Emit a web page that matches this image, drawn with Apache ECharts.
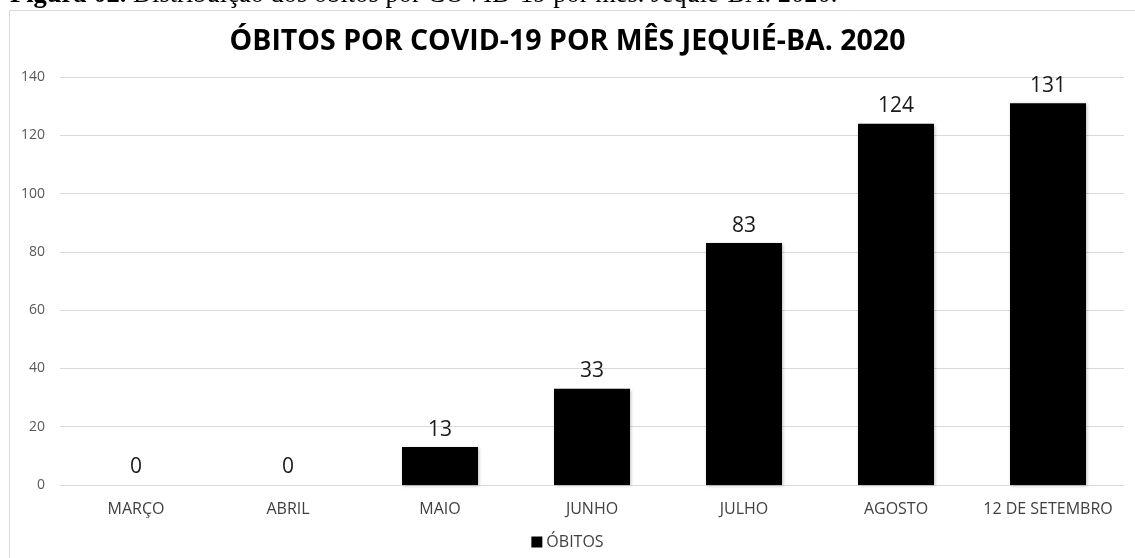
<!DOCTYPE html>
<html>
<head>
<meta charset="utf-8">
<script src="https://cdn.jsdelivr.net/npm/echarts@6/dist/echarts.min.js"></script>
<style>
html,body{margin:0;padding:0;background:#fff;}
#chart{width:1135px;height:558px;}
</style>
</head>
<body>
<div id="chart"></div>
<script>
const categories = ['MARÇO', 'ABRIL', 'MAIO', 'JUNHO', 'JULHO', 'AGOSTO', '12 DE SETEMBRO'];
const obitos = [0, 0, 13, 33, 83, 124, 131];
const seriesName = 'ÓBITOS';
const chartTitle = 'ÓBITOS POR COVID-19 POR MÊS JEQUIÉ-BA. 2020';
const captionBold = 'Figura 02.';
const captionText = ' Distribuição dos óbitos por COVID-19 por mês. Jequié-BA. 2020.';
const yTicks = { min: 0, max: 140, interval: 20 };

const chart = echarts.init(document.getElementById('chart'), null, { renderer: 'canvas' });
const sans = '"Open Sans", "Noto Sans", sans-serif';
const serif = '"Liberation Serif", "Times New Roman", serif';
chart.setOption({
  animation: false,
  backgroundColor: '#ffffff',
  title: {
    text: chartTitle,
    left: 'center',
    top: 22,
    textStyle: { fontFamily: sans, fontWeight: 'bold', fontSize: 28.5, color: '#000000' }
  },
  graphic: [
    {
      type: 'rect',
      shape: { x: 9.5, y: 10.5, width: 1300, height: 700 },
      style: { fill: 'none', stroke: '#d9d9d9', lineWidth: 1 },
      silent: true, z: -1
    },
    {
      type: 'text',
      left: 10,
      top: -18,
      style: {
        text: '{b|' + captionBold + '}{r|' + captionText + '}',
        rich: {
          b: { fontFamily: serif, fontWeight: 'bold', fontSize: 26.5, fill: '#000' },
          r: { fontFamily: serif, fontSize: 26.5, fill: '#000' }
        }
      }
    }
  ],
  legend: {
    data: [seriesName],
    bottom: 3,
    left: 'center',
    icon: 'rect',
    itemWidth: 11,
    itemHeight: 11,
    itemGap: 5,
    textStyle: { fontFamily: sans, fontSize: 16, color: '#404040', padding: [0, 0, 0, -1] }
  },
  grid: { left: 60, right: 11, top: 77, bottom: 73, containLabel: false },
  xAxis: {
    type: 'category',
    data: categories,
    axisLine: { lineStyle: { color: '#d9d9d9', width: 1 } },
    axisTick: { show: false },
    axisLabel: { fontFamily: sans, fontSize: 16, color: '#404040', margin: 16, interval: 0 }
  },
  yAxis: {
    type: 'value',
    min: yTicks.min,
    max: yTicks.max,
    interval: yTicks.interval,
    axisLine: { show: false },
    axisTick: { show: false },
    axisLabel: { fontFamily: sans, fontSize: 14, color: '#595959', margin: 15 },
    splitLine: { lineStyle: { color: '#d9d9d9', width: 1 } }
  },
  series: [{
    name: seriesName,
    type: 'bar',
    data: obitos,
    barWidth: '50%',
    itemStyle: { color: '#000000', shadowColor: 'rgba(0,0,0,0.25)', shadowBlur: 3, shadowOffsetX: 1, shadowOffsetY: 1 },
    label: {
      show: true,
      position: 'top',
      distance: 7,
      fontFamily: sans,
      fontSize: 21,
      color: '#1a1a1a'
    }
  }]
});
</script>
</body>
</html>
